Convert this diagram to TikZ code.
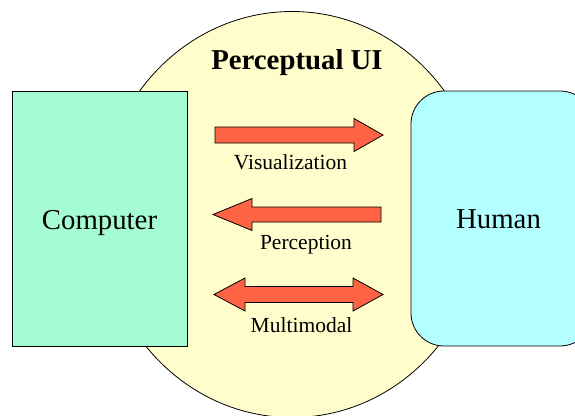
\documentclass[tikz,border=0pt]{standalone}
\usepackage{fontspec}
\setmainfont{Liberation Serif}
\definecolor{uiyellow}{HTML}{FFFDCC}
\definecolor{compgreen}{HTML}{A6FCD2}
\definecolor{humcyan}{HTML}{B3FFFF}
\definecolor{arrred}{HTML}{FE6443}
\tikzset{
  outline/.style={draw=black, line width=0.8pt},
  fatarrow/.style={draw=black, line width=0.8pt, fill=arrred, line join=miter},
  bigtext/.style={font=\fontsize{28.8}{32}\selectfont, anchor=base, inner sep=0pt},
  titletext/.style={font=\fontsize{28.8}{32}\selectfont\bfseries, anchor=base, inner sep=0pt},
  labeltext/.style={font=\fontsize{21.5}{24}\selectfont, anchor=base, inner sep=0pt}
}
\begin{document}
\begin{tikzpicture}[x=1pt,y=-1pt]
\useasboundingbox (0,0) rectangle (575,415);
\clip (0,0) rectangle (575,415);
% Perceptual UI ellipse
\draw[outline, fill=uiyellow] (292,214.5) ellipse [x radius=192, y radius=203];
% boxes
\draw[outline, fill=compgreen] (12,91) rectangle (187,346);
\draw[outline, fill=humcyan, rounded corners=33pt] (411,91) rectangle (593,346);
% arrows
\draw[fatarrow] (215,127) -- (354,127) -- (354,118.5) -- (383,135) -- (354,151.5) -- (354,143) -- (215,143) -- cycle;
\draw[fatarrow] (381,207) -- (252,207) -- (252,198.5) -- (213,214.5) -- (252,230.5) -- (252,222) -- (381,222) -- cycle;
\draw[fatarrow] (245,286.5) -- (353,286.5) -- (353,278) -- (383,294.5) -- (353,311) -- (353,302.5) -- (245,302.5) -- (245,311) -- (214,294.5) -- (245,278) -- cycle;
% texts
\node[titletext] (title) at (297,69) {Perceptual UI};
\node[bigtext] (computer) at (99.5,229) {Computer};
\node[bigtext] (human) at (498.5,228) {Human};
\node[labeltext] (vis) at (290.5,169) {Visualization};
\node[labeltext] (perc) at (306,249) {Perception};
\node[labeltext] (multi) at (301.5,332) {Multimodal};
\end{tikzpicture}
\end{document}
